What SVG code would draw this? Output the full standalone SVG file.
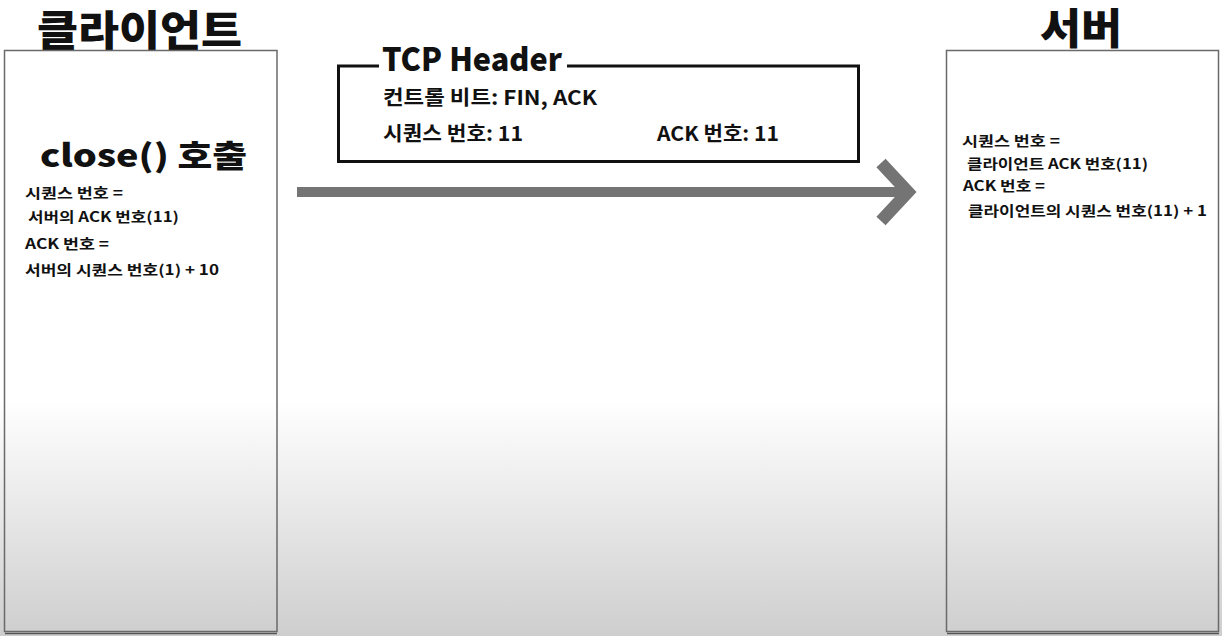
<svg xmlns="http://www.w3.org/2000/svg" width="1222" height="636" viewBox="0 0 1222 636">
  <defs>
    <linearGradient id="bg" x1="0" y1="400" x2="0" y2="636" gradientUnits="userSpaceOnUse">
      <stop offset="0" stop-color="#ffffff"/>
      <stop offset="1" stop-color="#cecece"/>
    </linearGradient>
  </defs>
  <style>
    text { font-family: "Noto Sans CJK KR", "Noto Sans", sans-serif; fill: #111; }
    .title { font-size: 42px; font-weight: 900; }
    .big { font-size: 31px; font-weight: 900; }
    .hdr { font-size: 32px; font-weight: 900; }
    .mid { font-size: 20px; font-weight: 700; }
    .small { font-size: 14px; font-weight: 700; }
    .panel { fill: none; stroke: #6a6a6a; stroke-width: 1.5; }
    .shadow { stroke: #555; stroke-width: 1.5; }
    .arrow { fill: none; stroke: #747474; }
  </style>
  <rect x="0" y="0" width="1222" height="636" fill="url(#bg)"/>

  <g id="client">
    <text class="title" x="37" y="46" textLength="205" lengthAdjust="spacingAndGlyphs">클라이언트</text>
    <rect class="panel" x="4.5" y="50.5" width="272.5" height="581"/>
    <line class="shadow" x1="5" y1="633.5" x2="277" y2="633.5"/>
    <text class="big" x="40" y="167" textLength="207" lengthAdjust="spacingAndGlyphs">close() 호출</text>
    <text class="small" x="25" y="198" textLength="98" lengthAdjust="spacingAndGlyphs">시퀀스 번호 =</text>
    <text class="small" x="28" y="222" textLength="151" lengthAdjust="spacingAndGlyphs">서버의 ACK 번호(11)</text>
    <text class="small" x="25" y="249" textLength="84" lengthAdjust="spacingAndGlyphs">ACK 번호 =</text>
    <text class="small" x="25" y="275" textLength="194" lengthAdjust="spacingAndGlyphs">서버의 시퀀스 번호(1) + 10</text>
  </g>

  <g id="server">
    <text class="title" x="1040" y="44" textLength="82" lengthAdjust="spacingAndGlyphs">서버</text>
    <rect class="panel" x="946.5" y="50.5" width="272" height="581"/>
    <line class="shadow" x1="947" y1="633.5" x2="1219" y2="633.5"/>
    <text class="small" x="962" y="146" textLength="98" lengthAdjust="spacingAndGlyphs">시퀀스 번호 =</text>
    <text class="small" x="967" y="169" textLength="181" lengthAdjust="spacingAndGlyphs">클라이언트 ACK 번호(11)</text>
    <text class="small" x="963" y="191" textLength="82" lengthAdjust="spacingAndGlyphs">ACK 번호 =</text>
    <text class="small" x="968" y="216" textLength="239" lengthAdjust="spacingAndGlyphs">클라이언트의 시퀀스 번호(11) + 1</text>
  </g>

  <g id="tcp-header">
    <path d="M379,66 H338.5 V161.5 H858.5 V66 H567" fill="none" stroke="#111" stroke-width="3"/>
    <text class="hdr" x="382" y="71" textLength="180" lengthAdjust="spacingAndGlyphs">TCP Header</text>
    <text class="mid" x="383" y="105" textLength="214" lengthAdjust="spacingAndGlyphs">컨트롤 비트: FIN, ACK</text>
    <text class="mid" x="383" y="141" textLength="140" lengthAdjust="spacingAndGlyphs">시퀀스 번호: 11</text>
    <text class="mid" x="657" y="141" textLength="122" lengthAdjust="spacingAndGlyphs">ACK 번호: 11</text>
  </g>

  <g id="connectors">
    <line class="arrow" x1="297" y1="192" x2="906" y2="192" stroke-width="10"/>
    <polyline class="arrow" points="881,163 908,192 881,221" stroke-width="12.5" stroke-linejoin="miter"/>
  </g>
</svg>
